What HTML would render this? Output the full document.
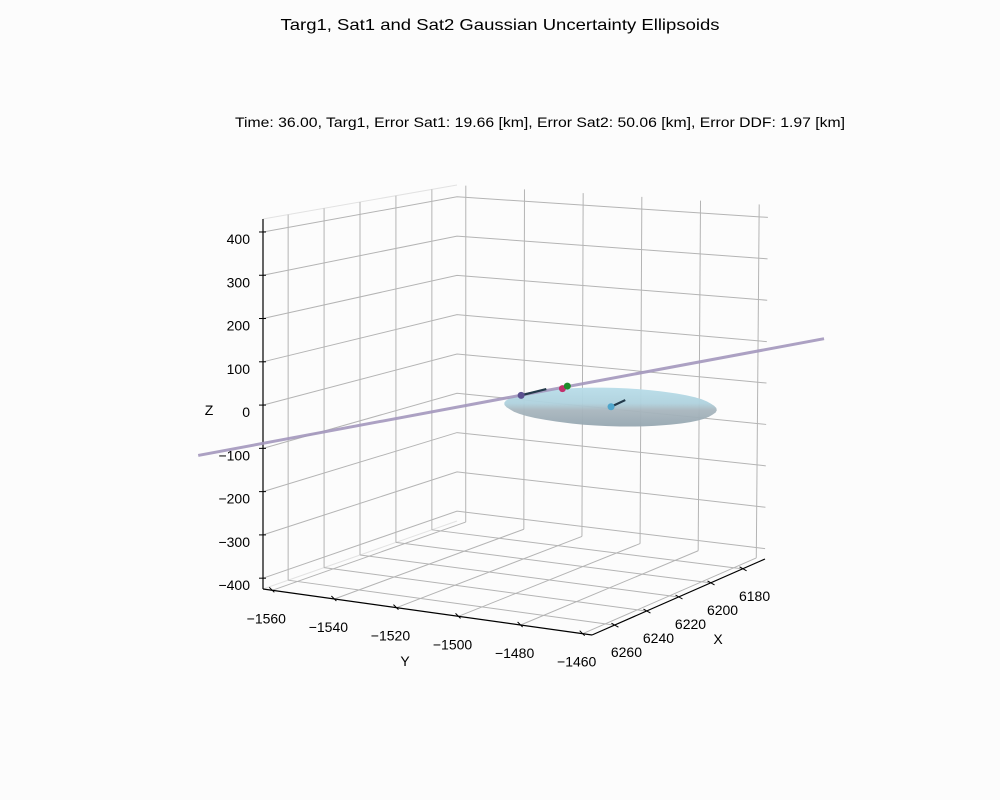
<!DOCTYPE html>
<html><head><meta charset="utf-8"><style>
body{margin:0;background:#fcfcfc;}
svg{display:block;font-family:"Liberation Sans","DejaVu Sans",sans-serif;}
</style></head><body>
<svg id="chart" width="1000" height="800" viewBox="0 0 1000 800">
<defs>
<linearGradient id="ellGrad" x1="0" y1="0" x2="0" y2="1">
<stop offset="0" stop-color="#b8dde9"/><stop offset="0.4" stop-color="#afd2de"/><stop offset="0.58" stop-color="#a8b6be"/><stop offset="1" stop-color="#96a7b1"/>
</linearGradient>
</defs>
<rect width="1000" height="800" fill="#fcfcfc"/>
<text x="500" y="30" text-anchor="middle" font-size="16" textLength="439" lengthAdjust="spacingAndGlyphs" fill="#000">Targ1, Sat1 and Sat2 Gaussian Uncertainty Ellipsoids</text>
<text x="540" y="127" text-anchor="middle" font-size="13.5" textLength="610" lengthAdjust="spacingAndGlyphs" fill="#000">Time: 36.00, Targ1, Error Sat1: 19.66 [km], Error Sat2: 50.06 [km], Error DDF: 1.97 [km]</text>
<g id="grid"></g>
<g id="axes"></g>
<g id="marks"></g>
<text x="209" y="415" text-anchor="middle" font-size="14">Z</text>
<text x="405" y="666" text-anchor="middle" font-size="14">Y</text>
<text x="718" y="644" text-anchor="middle" font-size="14">X</text>
</svg>
<script>
const xTicks=[6180,6200,6220,6240,6260];
const yTicks=[-1560,-1540,-1520,-1500,-1480,-1460];
const zTicks=[-400,-300,-200,-100,0,100,200,300,400];
const trajX=[6342.7,6100];
const trajY=[-1544.8,-1474.5];
const trajZ=[-23,11];
const ptNames=['sat1-point','targ-point','sat2-point','target-estimate-point'];
const ptX=[6220,6204,6202,6223];
const ptY=[-1509.5,-1504.8,-1504.3,-1478];
const ptZ=[2,2,6,2];
const ptColor=['#5b5190','#c2306c','#1e8c2a','#4fa6cc'];
const stickX=[6207,6204,6202,6214.4];
const stickY=[-1508.5,-1504.8,-1504.3,-1478];
const stickZ=[2,2,6,7];
const ellCenter=[6223,-1478,2];
const ellAxes=[27,32,20];

const NS='http://www.w3.org/2000/svg';
const F={A:[263,589],B:[592,635],C:[765,559],D:[457,521]};
const T={A:[263,219],B:[592,247],C:[768,205],D:[457,185]};
function bil(Q,u,v){
  return [0,1].map(i=>(1-u)*(1-v)*Q.A[i]+u*(1-v)*Q.B[i]+u*v*Q.C[i]+(1-u)*v*Q.D[i]);
}
function P(X,Y,Z){
  const u=(Y+1563)/106,v=(6274-X)/108,w=(Z+425)/855;
  const f=bil(F,u,v),t=bil(T,u,v);
  return [f[0]+(t[0]-f[0])*w,f[1]+(t[1]-f[1])*w];
}
function el(tag,attrs,parent){const e=document.createElementNS(NS,tag);for(const k in attrs)e.setAttribute(k,attrs[k]);parent.appendChild(e);return e;}
function line(p,q,col,wd,parent){return el('line',{x1:p[0],y1:p[1],x2:q[0],y2:q[1],stroke:col,'stroke-width':wd},parent);}
function hull(pts){
  pts=pts.slice().sort((a,b)=>a[0]-b[0]||a[1]-b[1]);
  const cr=(o,a,b)=>(a[0]-o[0])*(b[1]-o[1])-(a[1]-o[1])*(b[0]-o[0]);
  const lo=[],up=[];
  for(const p of pts){while(lo.length>=2&&cr(lo[lo.length-2],lo[lo.length-1],p)<=0)lo.pop();lo.push(p);}
  for(let i=pts.length-1;i>=0;i--){const p=pts[i];while(up.length>=2&&cr(up[up.length-2],up[up.length-1],p)<=0)up.pop();up.push(p);}
  up.pop();lo.pop();return lo.concat(up);
}
const grid=document.getElementById('grid'),axes=document.getElementById('axes'),marks=document.getElementById('marks');
const X0=6274,X1=6166,Y0=-1563,Y1=-1457,Z0=-425,Z1=430;
const gc='#b4b4b4';
let pe=line(P(X0,Y0,Z1),P(X1,Y0,Z1),'#e2e2e2',1,grid);


pe=line(P(X0,Y0,Z0),P(X1,Y0,Z0),'#e2e2e2',1,grid);


xTicks.forEach(x=>{
  let g=line(P(x,Y0,Z0),P(x,Y0,Z1),gc,1,grid);
  
  
  g=line(P(x,Y0,Z0),P(x,Y1,Z0),gc,1,grid);
  
  
});
yTicks.forEach(y=>{
  let g=line(P(X1,y,Z0),P(X1,y,Z1),gc,1,grid);
  
  
  g=line(P(X0,y,Z0),P(X1,y,Z0),gc,1,grid);
  
  
});
zTicks.forEach(z=>{
  let g=el('polyline',{points:[P(X0,Y0,z),P(X1,Y0,z),P(X1,Y1,z)].map(p=>p.join(',')).join(' '),fill:'none',stroke:gc,'stroke-width':1},grid);
  
  
});
let ax=line([263,219],[263,589],'#000',1.2,axes);


ax=line(P(X0,Y0,Z0),P(X0,Y1,Z0),'#000',1.2,axes);


ax=line(P(X0,Y1,Z0),P(X1,Y1,Z0),'#000',1.2,axes);


zTicks.forEach(z=>{
  const p=P(X0,Y0,z);
  let t=line([p[0]-4,p[1]],[p[0]+3,p[1]],'#000',1,axes);
  
  
  t=el('text',{x:250,y:p[1]+12,'text-anchor':'end','font-size':14},axes);
  t.textContent=String(z).replace('-','\u2212');
  
  
});
yTicks.forEach(y=>{
  const p=P(X0,y,Z0);
  let t=line([p[0]-3,p[1]-3],[p[0]+2,p[1]+2],'#000',1,axes);
  
  
  t=el('text',{x:p[0]-6,y:p[1]+33,'text-anchor':'middle','font-size':14},axes);
  t.textContent=String(y).replace('-','\u2212');
  
  
});
xTicks.forEach(x=>{
  const p=P(x,Y1,Z0);
  let t=line([p[0]-3,p[1]-2],[p[0]+4,p[1]+2],'#000',1,axes);
  
  
  t=el('text',{x:p[0]+12,y:p[1]+32,'text-anchor':'middle','font-size':14},axes);
  t.textContent=String(x);
  
  
});
const ep=[];
for(let i=0;i<48;i++){const a=i/48*2*Math.PI;for(let j=0;j<=12;j++){const b=-Math.PI/2+j/12*Math.PI;
  ep.push(P(ellCenter[0]+ellAxes[0]*Math.cos(a)*Math.cos(b),ellCenter[1]+ellAxes[1]*Math.sin(a)*Math.cos(b),ellCenter[2]+ellAxes[2]*Math.sin(b)));}}
let ell=el('polygon',{points:hull(ep).map(p=>p.join(',')).join(' '),fill:'url(#ellGrad)',stroke:'none','fill-opacity':0.95},marks);


const tp=trajX.map((x,i)=>P(x,trajY[i],trajZ[i]));
let tr=el('polyline',{points:tp.map(p=>p.join(',')).join(' '),fill:'none',stroke:'#a397bd','stroke-width':3,'stroke-opacity':0.9},marks);


ptX.forEach((x,i)=>{
  const p=P(x,ptY[i],ptZ[i]),q=P(stickX[i],stickY[i],stickZ[i]);
  if(Math.abs(p[0]-q[0])+Math.abs(p[1]-q[1])>1){
    const s=line(p,q,'#233a4a',2.2,marks);
    
    
  }
  const c=el('circle',{cx:p[0],cy:p[1],r:3.5,fill:ptColor[i]},marks);
  
  
});
</script>
</body></html>
